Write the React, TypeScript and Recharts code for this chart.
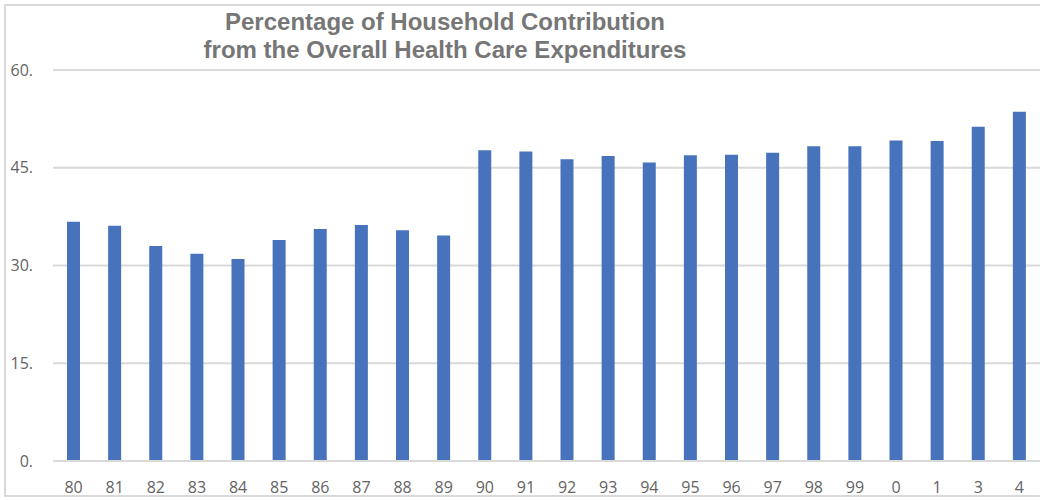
import React from 'react';
import { BarChart, Bar, XAxis, YAxis, CartesianGrid } from 'recharts';

// Year labels as printed on the axis (2002 is missing in the source)
const years = [
  '80', '81', '82', '83', '84', '85', '86', '87', '88', '89',
  '90', '91', '92', '93', '94', '95', '96', '97', '98', '99',
  '0', '1', '3', '4',
];

// Household share of total health expenditure, %
const householdShare = [
  36.7, 36.1, 33.0, 31.8, 31.0, 33.9, 35.6, 36.2, 35.4, 34.6,
  47.7, 47.5, 46.3, 46.8, 45.8, 46.9, 47.0, 47.3, 48.3, 48.3,
  49.2, 49.1, 51.3, 53.6,
];

const yTicks = [0, 15, 30, 45, 60];

const data = years.map((year, i) => ({ year, value: householdShare[i] }));

const tickFont = { fontFamily: '"Open Sans", sans-serif', fontSize: 16, fill: '#646464' };

export default function App() {
  return (
    <div style={{ position: 'absolute', left: 0, top: 0, width: 1040, height: 500, overflow: 'hidden', background: '#fff' }}>
      <div
        style={{
          position: 'absolute',
          left: 4,
          top: 4,
          width: 1100,
          height: 493,
          border: '2px solid #d9d9d9',
          boxSizing: 'border-box',
        }}
      />
      <div
        style={{
          position: 'absolute',
          left: 0,
          top: 8,
          width: 890,
          textAlign: 'center',
          fontFamily: '"Liberation Sans", Arial, sans-serif',
          fontWeight: 'bold',
          fontSize: 24,
          lineHeight: '28px',
          color: '#767676',
        }}
      >
        Percentage of Household Contribution
        <br />
        from the Overall Health Care Expenditures
      </div>
      <BarChart
        width={1040}
        height={500}
        data={data}
        margin={{ top: 70, right: 0, bottom: 0, left: 0 }}
        style={{ position: 'absolute', left: 0, top: 0 }}
      >
        <CartesianGrid vertical={false} stroke="#d9d9d9" strokeWidth={2} />
        <XAxis
          dataKey="year"
          height={39}
          axisLine={{ stroke: '#d9d9d9', strokeWidth: 2 }}
          tickLine={false}
          tickSize={0}
          tickMargin={21}
          interval={0}
          tick={tickFont}
        />
        <YAxis
          width={53}
          domain={[0, 60]}
          ticks={yTicks}
          tickFormatter={(v: number) => `${v}.`}
          axisLine={false}
          tickLine={false}
          tickSize={0}
          tickMargin={20}
          tick={tickFont}
        />
        <Bar dataKey="value" fill="#4673bb" barSize={13} isAnimationActive={false} />
      </BarChart>
    </div>
  );
}
